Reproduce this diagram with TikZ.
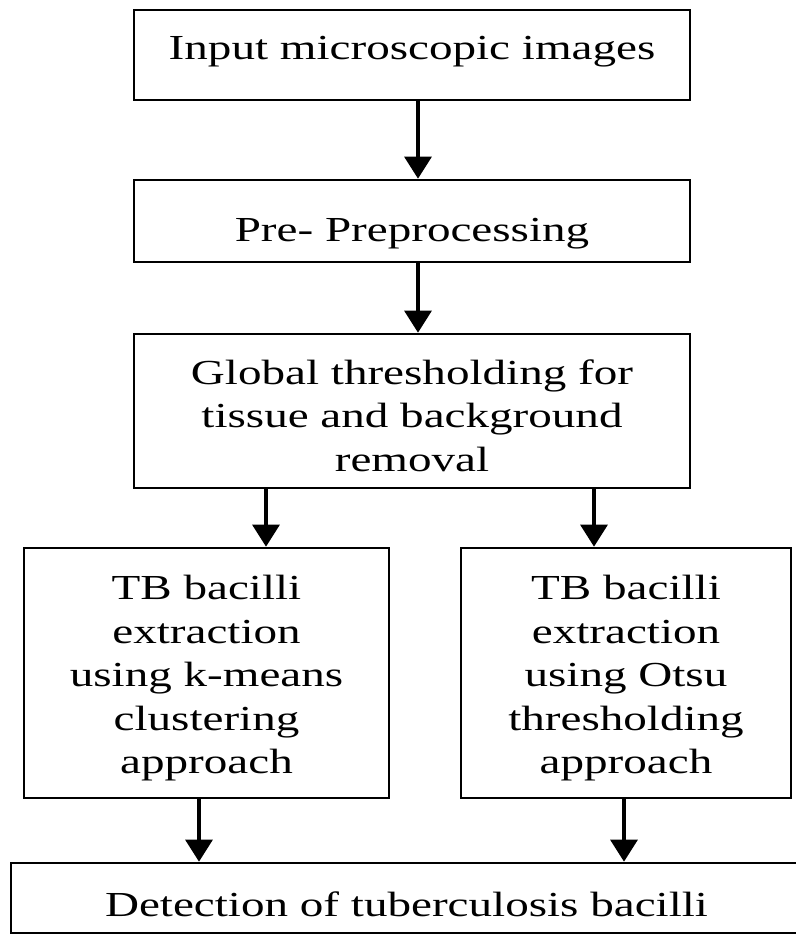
\documentclass[tikz,border=0pt]{standalone}
\usepackage{fontspec}
\setmainfont{Liberation Serif}
\usepackage{graphicx}
\usetikzlibrary{arrows.meta}
\def\bw{11.12cm}
\def\sw{7.3cm}
\newcommand\widetext[2][0pt]{\raisebox{#1}[\height][\depth]{\scalebox{1.34}[1]{\begin{tabular}{@{}c@{}}#2\end{tabular}}}}
\tikzset{
    stage/.style = {
        draw, rectangle, line width=1.5pt, inner sep=0pt, font=\fontsize{20}{24.8}\selectfont
    },
    flow/.style = {
        -{Triangle[width=5.4mm, length=4.4mm]}, line width=1.8pt
    },
}

\begin{document}
\begin{tikzpicture}
        \useasboundingbox (0,0) rectangle (15.9,-18.68);
        % Place the blocks
        \node[stage, minimum width=\bw, minimum height=1.8cm] (input) at (8.24,-1.1) {\widetext[0.8mm]{Input microscopic images}};
        \node[stage, minimum width=\bw, minimum height=1.64cm] (pre) at (8.24,-4.42) {\widetext[-2.4mm]{Pre- Preprocessing}};
        \node[stage, minimum width=\bw, minimum height=3.08cm] (global) at (8.24,-8.22) {\widetext[-1.6mm]{Global thresholding for\\tissue and background\\removal}};
        \node[stage, minimum width=\sw, minimum height=5cm] (kmeans) at (4.13,-13.46) {\widetext[-1mm]{TB bacilli\\extraction\\using k-means\\clustering\\approach}};
        \node[stage, minimum width=6.6cm, minimum height=5cm] (otsu) at (12.52,-13.46) {\widetext[-1mm]{TB bacilli\\extraction\\using Otsu\\thresholding\\approach}};
        \node[stage, minimum width=15.82cm, minimum height=1.4cm] (detect) at (8.13,-17.96) {\widetext[-2mm]{Detection of tuberculosis bacilli}};

        % Draw connections
        \coordinate (a) at ([xshift=1.2mm] input.south);
        \coordinate (b) at ([xshift=1.2mm] pre.south);
        \coordinate (c) at ([xshift=-2.92cm] global.south);
        \coordinate (d) at ([xshift=3.64cm] global.south);
        \coordinate (e) at ([xshift=-1.5mm] kmeans.south);
        \coordinate (f) at ([xshift=-0.4mm] otsu.south);
        \draw[flow] (a) -- (a |- pre.north);
        \draw[flow] (b) -- (b |- global.north);
        \draw[flow] (c) -- (c |- kmeans.north);
        \draw[flow] (d) -- (d |- otsu.north);
        \draw[flow] (e) -- (e |- detect.north);
        \draw[flow] (f) -- (f |- detect.north);
    \end{tikzpicture}
\end{document}
